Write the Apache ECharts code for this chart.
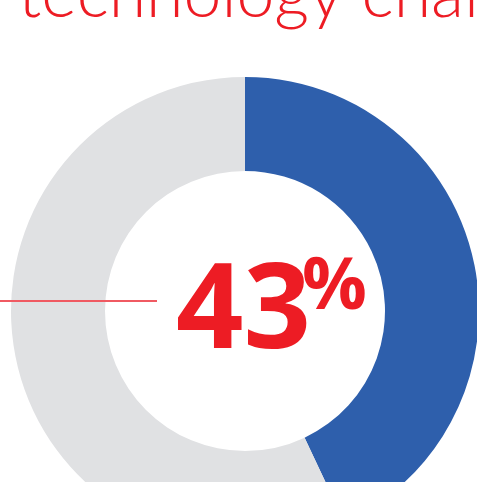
<!DOCTYPE html>
<html><head><meta charset="utf-8">
<script src="https://cdn.jsdelivr.net/npm/echarts@6/dist/echarts.min.js"></script>
<style>html,body{margin:0;padding:0;background:#fff;}#c{width:477px;height:482px;}</style>
</head><body><div id="c"></div>
<script>
const titleText = 'technology challenges';
const categories = ['Yes', 'Other'];
const values = [43, 57];
const colors = ['#2E5FAC', '#E0E1E3'];
const highlightValue = values[0];

const chart = echarts.init(document.getElementById('c'), null, {renderer: 'canvas'});
chart.setOption({
  animation: false,
  series: [{
    type: 'pie',
    center: [245, 311],
    radius: [140, 234],
    startAngle: 90,
    clockwise: true,
    silent: true,
    label: {show: false},
    labelLine: {show: false},
    data: categories.map((c, i) => ({name: c, value: values[i], itemStyle: {color: colors[i]}}))
  }],
  graphic: [
    {type: 'text', x: 18, y: -39, style: {text: titleText, font: '300 68px Lato', fill: '#ED1C24', align: 'left', verticalAlign: 'top'}},
    {type: 'rect', z: 100, shape: {x: 0, y: 300, width: 157, height: 2}, style: {fill: '#F05A62'}},
    {type: 'text', x: 176, y: 314, style: {text: String(highlightValue), font: '700 118px "Open Sans"', fill: '#ED1C24', align: 'left', verticalAlign: 'middle'}},
    {type: 'text', x: 302, y: 288, style: {text: '%', font: '700 72px "Open Sans"', fill: '#ED1C24', align: 'left', verticalAlign: 'middle'}}
  ]
});
</script></body></html>
